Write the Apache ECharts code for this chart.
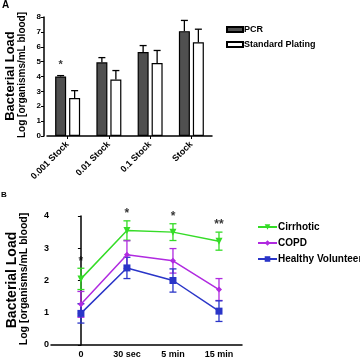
<!DOCTYPE html>
<html>
<head>
<meta charset="utf-8">
<script src="https://cdn.jsdelivr.net/npm/echarts@6/dist/echarts.min.js"></script>
<style>
  html, body { margin: 0; padding: 0; background: #fff; }
  #chart { width: 360px; height: 359px; }
</style>
</head>
<body>
<div id="chart"></div>
<script>
// panel A
const stockCats = ['0.001 Stock', '0.01 Stock', '0.1 Stock', 'Stock'];
const pcrVals = [4.0, 4.95, 5.65, 7.05];
const pcrErr = [0.06, 0.32, 0.43, 0.72];
const plateVals = [2.55, 3.8, 4.9, 6.3];
const plateErr = [0.5, 0.6, 0.85, 0.88];
const sigA = ['*', '', '', ''];

// panel B
const timeCats = ['0', '30 sec', '5 min', '15 min'];
const cirrVals = [2.05, 3.55, 3.5, 3.22];
const cirrErr = [0.33, 0.3, 0.26, 0.28];
const copdVals = [1.26, 2.8, 2.61, 1.72];
const copdErr = [0.4, 0.43, 0.38, 0.34];
const hvVals = [0.98, 2.39, 2.0, 1.05];
const hvErr = [0.3, 0.33, 0.36, 0.32];
const sigB = ['*', '*', '*', '**'];

const FONT = 'Liberation Sans, Arial, sans-serif';
const green = '#35dc27';
const purple = '#b02ae0';
const blue = '#2a35c8';

const chart = echarts.init(document.getElementById('chart'));

// error bar drawer, up only or both ways
function errBar(shift, color, both) {
  return function (params, api) {
    const x = api.value(0), v = api.value(1), e = api.value(2);
    const mid = api.coord([x, v]);
    const top = api.coord([x, v + e]);
    const bot = both ? api.coord([x, v - e]) : mid;
    const cx = mid[0] + shift;
    const st = { stroke: color, lineWidth: 1.3 };
    const kids = [
      { type: 'line', shape: { x1: cx, y1: bot[1], x2: cx, y2: top[1] }, style: st },
      { type: 'line', shape: { x1: cx - 3.5, y1: top[1], x2: cx + 3.5, y2: top[1] }, style: st }
    ];
    if (both) {
      kids.push({ type: 'line', shape: { x1: cx - 3.5, y1: bot[1], x2: cx + 3.5, y2: bot[1] }, style: st });
    }
    return { type: 'group', children: kids };
  };
}

const lbl = { fontFamily: FONT, fontWeight: 'bold', color: '#000' };

let option = {
  backgroundColor: '#fff',
  animation: false,
  textStyle: { fontFamily: FONT },
  grid: [
    { left: 47, top: 17, width: 165, height: 119 },
    { left: 51, top: 216, width: 191, height: 130 }
  ],
  xAxis: [{
    gridIndex: 0,
    type: 'category',
    data: stockCats,
    axisLine: { lineStyle: { color: '#000', width: 1.5 } },
    axisTick: { show: true, alignWithLabel: true, length: 3, lineStyle: { color: '#000' } },
    axisLabel: Object.assign({ fontSize: 9, rotate: 45, margin: 7, interval: 0 }, lbl)
  }, {
    gridIndex: 1,
    type: 'value',
    min: -0.65,
    max: 3.5,
    splitLine: { show: false },
    axisLine: { lineStyle: { color: '#000', width: 1.5 } },
    axisTick: { show: false },
    axisLabel: Object.assign({
      fontSize: 9, margin: 5, showMinLabel: true, showMaxLabel: true,
      formatter: function (v) {
        return Number.isInteger(v) && timeCats[v] !== undefined ? timeCats[v] : '';
      }
    }, lbl)
  }],
  yAxis: [{
    gridIndex: 0,
    type: 'value',
    min: 0, max: 8, interval: 1,
    offset: 3,
    splitLine: { show: false },
    axisLine: { show: true, lineStyle: { color: '#000', width: 1.5 } },
    axisTick: { show: true, length: 3, lineStyle: { color: '#000' } },
    axisLabel: Object.assign({ fontSize: 8, margin: 3 }, lbl)
  }, {
    gridIndex: 1,
    type: 'value',
    min: 0, max: 4, interval: 1,
    splitLine: { show: false },
    axisLine: { show: true, lineStyle: { color: '#000', width: 1.5 } },
    axisTick: { show: true, length: 3, lineStyle: { color: '#000' } },
    axisLabel: Object.assign({ fontSize: 9, margin: 2 }, lbl)
  }],
  legend: [{
    orient: 'vertical',
    left: 221, top: 19,
    itemWidth: 16, itemHeight: 5, itemGap: 4,
    icon: 'rect',
    textStyle: Object.assign({ fontSize: 9, lineHeight: 11, padding: [0, 0, 0, -4] }, lbl),
    data: ['PCR', 'Standard Plating']
  }, {
    orient: 'vertical',
    left: 252, top: 216,
    itemWidth: 19, itemHeight: 7, itemGap: 4,
    textStyle: Object.assign({ fontSize: 10, lineHeight: 12, padding: [0, 0, 0, -4] }, lbl),
    data: ['Cirrhotic', 'COPD', 'Healthy Volunteer']
  }],
  graphic: [
    { type: 'text', x: 2, y: 0, style: { text: 'A', font: 'bold 10px ' + FONT, fill: '#000' } },
    { type: 'text', x: 1, y: 191, style: { text: 'B', font: 'bold 8px ' + FONT, fill: '#000' } },
    { type: 'text', x: 10, y: 76, rotation: Math.PI / 2,
      style: { text: 'Bacterial Load', font: 'bold 13px ' + FONT, fill: '#000', align: 'center', verticalAlign: 'middle' } },
    { type: 'text', x: 22, y: 75, rotation: Math.PI / 2,
      style: { text: 'Log [organisms/mL blood]', font: 'bold 10px ' + FONT, fill: '#000', align: 'center', verticalAlign: 'middle' } },
    { type: 'text', x: 12, y: 280, rotation: Math.PI / 2,
      style: { text: 'Bacterial Load', font: 'bold 14px ' + FONT, fill: '#000', align: 'center', verticalAlign: 'middle' } },
    { type: 'text', x: 24, y: 279, rotation: Math.PI / 2,
      style: { text: 'Log [organisms/mL blood]', font: 'bold 10.5px ' + FONT, fill: '#000', align: 'center', verticalAlign: 'middle' } }
  ],
  series: [
    {
      name: 'PCR', type: 'bar', xAxisIndex: 0, yAxisIndex: 0,
      barWidth: 11, barGap: '27%',
      itemStyle: { color: '#505050', borderColor: '#000', borderWidth: 1.2 },
      data: pcrVals
    },
    {
      name: 'Standard Plating', type: 'bar', xAxisIndex: 0, yAxisIndex: 0,
      barWidth: 11, barGap: '27%',
      itemStyle: { color: '#fff', borderColor: '#000', borderWidth: 1.2 },
      data: plateVals
    },
    {
      type: 'custom', xAxisIndex: 0, yAxisIndex: 0, z: 3,
      renderItem: errBar(-7, '#000', false),
      data: pcrVals.map((v, i) => [i, v, pcrErr[i]])
    },
    {
      type: 'custom', xAxisIndex: 0, yAxisIndex: 0, z: 3,
      renderItem: errBar(7, '#000', false),
      data: plateVals.map((v, i) => [i, v, plateErr[i]])
    },
    {
      type: 'scatter', xAxisIndex: 0, yAxisIndex: 0, symbolSize: 0,
      label: {
        show: true, position: 'top', distance: 5, offset: [-7, 0],
        formatter: p => sigA[p.dataIndex], fontSize: 11, fontWeight: 'bold', color: '#000', fontFamily: FONT
      },
      data: pcrVals.map((v, i) => [i, v + pcrErr[i]])
    },
    {
      name: 'Cirrhotic', type: 'line', xAxisIndex: 1, yAxisIndex: 1,
      symbol: 'triangle', symbolRotate: 180, symbolSize: 7,
      color: green, lineStyle: { width: 1.5 },
      data: cirrVals.map((v, i) => [i, v])
    },
    {
      name: 'COPD', type: 'line', xAxisIndex: 1, yAxisIndex: 1,
      symbol: 'diamond', symbolSize: 6,
      color: purple, lineStyle: { width: 1.5 },
      data: copdVals.map((v, i) => [i, v])
    },
    {
      name: 'Healthy Volunteer', type: 'line', xAxisIndex: 1, yAxisIndex: 1,
      symbol: 'rect', symbolSize: 7,
      color: blue, lineStyle: { width: 1.5 },
      data: hvVals.map((v, i) => [i, v])
    },
    {
      type: 'custom', xAxisIndex: 1, yAxisIndex: 1,
      renderItem: errBar(0, green, true),
      data: cirrVals.map((v, i) => [i, v, cirrErr[i]])
    },
    {
      type: 'custom', xAxisIndex: 1, yAxisIndex: 1,
      renderItem: errBar(0, purple, true),
      data: copdVals.map((v, i) => [i, v, copdErr[i]])
    },
    {
      type: 'custom', xAxisIndex: 1, yAxisIndex: 1,
      renderItem: errBar(0, blue, true),
      data: hvVals.map((v, i) => [i, v, hvErr[i]])
    },
    {
      type: 'scatter', xAxisIndex: 1, yAxisIndex: 1, symbolSize: 0,
      label: {
        show: true, position: 'top', distance: 1,
        formatter: p => sigB[p.dataIndex], fontSize: 12, fontWeight: 'bold', color: '#000', fontFamily: FONT
      },
      data: cirrVals.map((v, i) => [i, v + cirrErr[i]])
    }
  ]
};

chart.setOption(option);
</script>
</body>
</html>
